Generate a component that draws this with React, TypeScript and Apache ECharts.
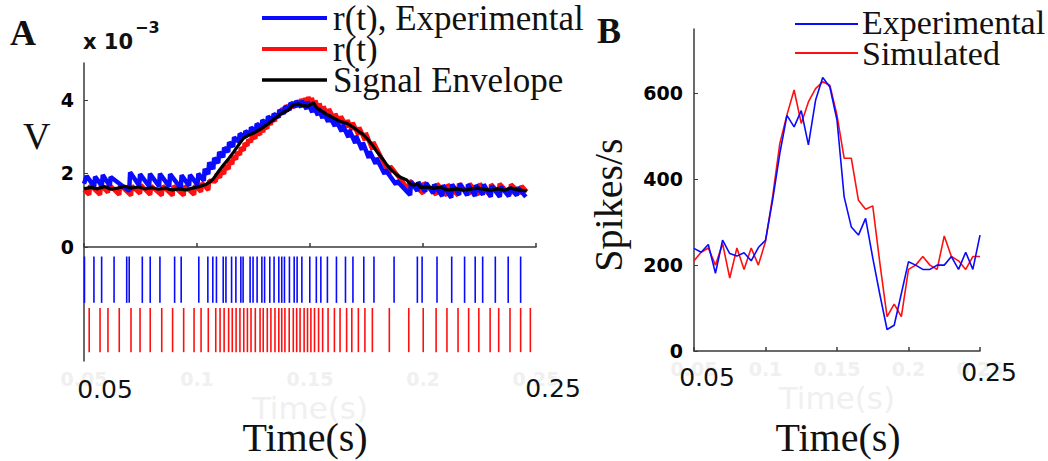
import React, { useEffect, useRef } from "react";
import * as echarts from "echarts";

// ---------- Panel A: voltage traces (x = time s, y = V x 1e-3) ----------
const aRedTrace: number[][] = [
  [0.0500,1.55],[0.0523,1.42],[0.0527,1.68],[0.0571,1.42],[0.0575,1.68],[0.0606,1.48],[0.0610,1.70],
  [0.0656,1.42],[0.0660,1.68],[0.0708,1.40],[0.0712,1.66],[0.0748,1.45],[0.0752,1.68],[0.0793,1.42],
  [0.0797,1.66],[0.0844,1.40],[0.0848,1.66],[0.0892,1.40],[0.0896,1.66],[0.0941,1.40],[0.0945,1.66],
  [0.0987,1.42],[0.0991,1.68],[0.1018,1.50],[0.1022,1.74],[0.1050,1.55],[0.1054,1.80],[0.1083,1.78],
  [0.1087,1.98],[0.1102,1.88],[0.1106,2.08],[0.1120,1.98],[0.1124,2.20],[0.1140,2.12],[0.1144,2.35],
  [0.1156,2.25],[0.1160,2.46],[0.1173,2.38],[0.1177,2.58],[0.1190,2.50],[0.1194,2.70],[0.1207,2.62],
  [0.1211,2.82],[0.1223,2.75],[0.1227,2.92],[0.1239,2.85],[0.1243,3.02],[0.1258,2.95],[0.1262,3.12],
  [0.1279,3.05],[0.1283,3.22],[0.1293,3.12],[0.1297,3.30],[0.1311,3.22],[0.1315,3.40],[0.1327,3.32],
  [0.1331,3.50],[0.1345,3.42],[0.1349,3.60],[0.1362,3.52],[0.1366,3.70],[0.1375,3.60],[0.1379,3.78],
  [0.1389,3.66],[0.1393,3.85],[0.1408,3.72],[0.1412,3.90],[0.1426,3.78],[0.1430,3.95],[0.1441,3.80],
  [0.1445,3.97],[0.1456,3.82],[0.1460,4.02],[0.1474,3.85],[0.1478,4.05],[0.1489,3.88],[0.1493,4.08],
  [0.1504,3.85],[0.1508,4.05],[0.1520,3.80],[0.1524,3.98],[0.1538,3.70],[0.1542,3.90],[0.1556,3.62],
  [0.1560,3.82],[0.1580,3.55],[0.1584,3.75],[0.1608,3.45],[0.1612,3.62],[0.1633,3.35],[0.1637,3.55],
  [0.1662,3.25],[0.1666,3.45],[0.1685,3.18],[0.1689,3.38],[0.1714,3.05],[0.1718,3.25],[0.1743,2.90],
  [0.1747,3.10],[0.1776,2.65],[0.1780,2.85],[0.1851,2.00],[0.1855,2.20],[0.1937,1.55],[0.1941,1.80],
  [0.2001,1.45],[0.2005,1.75],[0.2058,1.42],[0.2062,1.72],[0.2106,1.40],[0.2110,1.70],[0.2155,1.40],
  [0.2159,1.72],[0.2202,1.42],[0.2206,1.72],[0.2247,1.42],[0.2251,1.72],[0.2297,1.40],[0.2301,1.70],
  [0.2335,1.48],[0.2339,1.72],[0.2385,1.42],[0.2389,1.70],[0.2432,1.45],[0.2436,1.66],[0.2459,1.50],
];

const aBlueTrace: number[][] = [
  [0.0500,1.72],[0.0512,1.93],[0.0545,1.64],[0.0549,1.91],[0.0579,1.66],[0.0583,1.96],[0.0614,1.66],
  [0.0618,1.90],[0.0700,1.52],[0.0704,2.03],[0.0744,1.67],[0.0748,1.98],[0.0788,1.65],[0.0792,1.99],
  [0.0832,1.65],[0.0836,1.99],[0.0877,1.64],[0.0881,1.98],[0.0928,1.60],[0.0932,1.95],[0.0965,1.66],
  [0.0969,1.96],[0.1002,1.69],[0.1006,1.99],[0.1030,1.80],[0.1034,2.12],[0.1050,1.98],[0.1054,2.30],
  [0.1072,2.12],[0.1076,2.42],[0.1094,2.28],[0.1098,2.58],[0.1116,2.44],[0.1120,2.70],[0.1138,2.58],
  [0.1142,2.85],[0.1160,2.72],[0.1164,2.98],[0.1185,2.86],[0.1189,3.08],[0.1210,2.98],[0.1214,3.15],
  [0.1235,3.05],[0.1239,3.25],[0.1260,3.13],[0.1264,3.35],[0.1285,3.22],[0.1289,3.45],[0.1310,3.33],
  [0.1314,3.55],[0.1335,3.42],[0.1339,3.62],[0.1360,3.52],[0.1364,3.72],[0.1385,3.62],[0.1389,3.82],
  [0.1410,3.72],[0.1414,3.92],[0.1435,3.80],[0.1439,3.97],[0.1460,3.80],[0.1464,3.97],[0.1485,3.75],
  [0.1489,3.95],[0.1510,3.66],[0.1514,3.85],[0.1535,3.58],[0.1539,3.76],[0.1555,3.50],[0.1559,3.68],
  [0.1580,3.40],[0.1584,3.58],[0.1610,3.28],[0.1614,3.46],[0.1640,3.14],[0.1644,3.32],[0.1670,2.98],
  [0.1674,3.18],[0.1700,2.82],[0.1704,3.02],[0.1730,2.64],[0.1734,2.84],[0.1760,2.42],[0.1764,2.60],
  [0.1790,2.26],[0.1794,2.42],[0.1830,1.98],[0.1834,2.10],[0.1880,1.70],[0.1884,1.80],[0.1943,1.41],
  [0.1947,1.78],[0.1975,1.52],[0.1979,1.76],[0.2010,1.50],[0.2014,1.74],[0.2045,1.46],[0.2049,1.70],
  [0.2085,1.38],[0.2089,1.68],[0.2125,1.34],[0.2129,1.70],[0.2160,1.42],[0.2164,1.72],[0.2195,1.40],
  [0.2199,1.70],[0.2230,1.38],[0.2234,1.68],[0.2265,1.42],[0.2269,1.70],[0.2300,1.36],[0.2304,1.66],
  [0.2340,1.36],[0.2344,1.64],[0.2380,1.38],[0.2384,1.62],[0.2415,1.40],[0.2419,1.62],[0.2455,1.36],
];

const aEnvelope: number[][] = [
  [0.0500,1.58],[0.0530,1.62],[0.0560,1.58],[0.0590,1.64],[0.0620,1.57],[0.0650,1.60],[0.0680,1.65],
  [0.0710,1.60],[0.0740,1.63],[0.0770,1.58],[0.0800,1.61],[0.0830,1.57],[0.0860,1.60],[0.0890,1.55],
  [0.0920,1.58],[0.0950,1.55],[0.0980,1.60],[0.1010,1.64],[0.1040,1.70],[0.1060,1.78],[0.1072,1.85],
  [0.1095,2.05],[0.1116,2.22],[0.1140,2.40],[0.1161,2.57],[0.1185,2.78],[0.1205,2.95],[0.1230,3.04],
  [0.1249,3.09],[0.1270,3.16],[0.1293,3.25],[0.1315,3.35],[0.1338,3.46],[0.1360,3.56],[0.1382,3.66],
  [0.1400,3.70],[0.1426,3.86],[0.1450,3.88],[0.1471,3.84],[0.1490,3.82],[0.1515,3.92],[0.1530,3.78],
  [0.1555,3.68],[0.1574,3.60],[0.1600,3.52],[0.1618,3.46],[0.1640,3.40],[0.1663,3.36],[0.1685,3.28],
  [0.1707,3.18],[0.1730,3.08],[0.1751,2.96],[0.1775,2.78],[0.1795,2.60],[0.1818,2.42],[0.1840,2.23],
  [0.1862,2.08],[0.1884,1.96],[0.1905,1.88],[0.1928,1.82],[0.1945,1.70],[0.1958,1.68],[0.1975,1.72],
  [0.1990,1.62],[0.2020,1.63],[0.2046,1.60],[0.2080,1.62],[0.2100,1.56],[0.2120,1.55],[0.2150,1.58],
  [0.2180,1.54],[0.2210,1.57],[0.2240,1.60],[0.2267,1.57],[0.2300,1.54],[0.2330,1.58],[0.2360,1.54],
  [0.2390,1.60],[0.2420,1.55],[0.2459,1.52],
];

// Spike rasters (spike times in s)
const blueSpikes: number[] = [
  0.0502, 0.0544, 0.0578, 0.0633, 0.0689, 0.0700, 0.0758, 0.0793, 0.0836, 0.0901, 0.0930, 0.1008,
  0.1048, 0.1070, 0.1086, 0.1116, 0.1128, 0.1153, 0.1172, 0.1194, 0.1204, 0.1235, 0.1248, 0.1266,
  0.1287, 0.1299, 0.1322, 0.1341, 0.1362, 0.1375, 0.1387, 0.1409, 0.1430, 0.1443, 0.1464, 0.1499,
  0.1528, 0.1548, 0.1577, 0.1617, 0.1657, 0.1690, 0.1738, 0.1783, 0.1872, 0.1975, 0.1996, 0.2062,
  0.2127, 0.2184, 0.2231, 0.2264, 0.2320, 0.2377, 0.2432,
];
const redSpikes: number[] = [
  0.0523, 0.0571, 0.0606, 0.0656, 0.0708, 0.0748, 0.0793, 0.0844, 0.0892, 0.0941, 0.0987, 0.1018,
  0.1050, 0.1083, 0.1102, 0.1120, 0.1140, 0.1156, 0.1173, 0.1190, 0.1207, 0.1223, 0.1239, 0.1258,
  0.1279, 0.1293, 0.1311, 0.1327, 0.1345, 0.1362, 0.1375, 0.1389, 0.1408, 0.1426, 0.1441, 0.1456,
  0.1474, 0.1489, 0.1504, 0.1520, 0.1538, 0.1556, 0.1580, 0.1608, 0.1633, 0.1662, 0.1685, 0.1714,
  0.1743, 0.1776, 0.1851, 0.1937, 0.2001, 0.2058, 0.2106, 0.2155, 0.2202, 0.2247, 0.2297, 0.2335,
  0.2385, 0.2432, 0.2475,
];

// ---------- Panel B: firing rate ----------
const bTimes: number[] = [
  0.050, 0.055, 0.060, 0.065, 0.070, 0.075, 0.080, 0.085, 0.090, 0.095, 0.100, 0.105, 0.110, 0.115,
  0.120, 0.125, 0.130, 0.135, 0.140, 0.145, 0.150, 0.155, 0.160, 0.165, 0.170, 0.175, 0.180, 0.185,
  0.190, 0.195, 0.200, 0.205, 0.210, 0.215, 0.220, 0.225, 0.230, 0.235, 0.240, 0.245, 0.250,
];
const bExperimental: number[] = [
  239, 230, 248, 181, 258, 227, 221, 229, 210, 241, 258, 352, 460, 549, 522, 560, 480, 584, 637, 615,
  538, 359, 289, 270, 309, 217, 131, 50, 60, 134, 208, 200, 190, 190, 200, 200, 220, 190, 230, 190, 270,
];
const bSimulated: number[] = [
  210, 230, 240, 200, 250, 170, 240, 190, 240, 200, 255, 360, 483, 550, 608, 530, 580, 611, 627, 619,
  549, 449, 449, 351, 330, 338, 204, 80, 109, 80, 190, 200, 220, 200, 190, 268, 220, 210, 190, 220, 220,
];

const aYLabels = [0, 2, 4];
const bYLabels = [0, 200, 400, 600];

const SERIF = "'Liberation Serif', 'Times New Roman', serif";
const SANS = "'DejaVu Sans', sans-serif";
const BLUE = "#0a0aff";
const RED = "#ff1010";
const AXIS = "#3a3a3a";
const FAINT = "#f0f0f0";

function rasterSeries(spikes: number[], y0: number, y1: number, color: string) {
  return {
    type: "custom",
    xAxisIndex: 0,
    yAxisIndex: 0,
    data: spikes.map((t) => [t, y0]),
    encode: { x: 0, y: 1 },
    renderItem: (_p: any, api: any) => {
      const t = api.value(0);
      const a = api.coord([t, y0]);
      const b = api.coord([t, y1]);
      return {
        type: "line",
        shape: { x1: a[0], y1: a[1], x2: b[0], y2: b[1] },
        style: { stroke: color, lineWidth: 1.6 },
      };
    },
    z: 3,
  };
}

function txt(text: string, x: number, y: number, size: number, family: string, opts: any = {}) {
  return {
    type: "text",
    x,
    y,
    rotation: opts.rotation || 0,
    style: {
      text,
      fontSize: size,
      fontFamily: family,
      fontWeight: opts.weight || "normal",
      fill: opts.color || "#111",
      align: opts.align || "left",
      verticalAlign: "middle",
      textAlign: opts.align || "left",
      textVerticalAlign: "middle",
    },
    z: 10,
  };
}

function legLine(x1: number, x2: number, y: number, color: string, w: number) {
  return {
    type: "line",
    shape: { x1, y1: y, x2, y2: y },
    style: { stroke: color, lineWidth: w },
    z: 10,
  };
}

export default function App() {
  const ref = useRef<HTMLDivElement>(null);
  useEffect(() => {
    if (!ref.current) return;
    const chart = echarts.init(ref.current, undefined, { renderer: "svg" });
    const xAxisCommon = (idx: number) => ({
      type: "value",
      gridIndex: idx,
      min: 0.05,
      max: 0.25,
      interval: 0.05,
      axisLine: { show: true, lineStyle: { color: AXIS, width: 1.5 } },
      axisTick: { show: true, inside: true, length: 4, lineStyle: { color: AXIS, width: 1.5 } },
      axisLabel: {
        color: FAINT,
        fontFamily: SANS,
        fontWeight: "bold",
        fontSize: 19,
        margin: 8,
        formatter: (v: number) => String(Math.round(v * 100) / 100),
      },
      splitLine: { show: false },
      name: "Time(s)",
      nameLocation: "middle",
      nameGap: 28,
      nameTextStyle: { color: FAINT, fontFamily: SANS, fontSize: 31 },
    });
    chart.setOption({
      animation: false,
      backgroundColor: "#ffffff",
      grid: [
        { left: 84, top: 63, width: 452, height: 298 },
        { left: 694, top: 29, width: 286, height: 322 },
      ],
      xAxis: [xAxisCommon(0), xAxisCommon(1)],
      yAxis: [
        {
          type: "value",
          gridIndex: 0,
          min: -3.1,
          max: 5,
          axisLine: { show: true, lineStyle: { color: AXIS, width: 1.5 } },
          axisTick: { show: true, inside: true, length: 4, customValues: aYLabels, lineStyle: { color: AXIS } },
          axisLabel: {
            customValues: aYLabels,
            color: "#000",
            fontFamily: SANS,
            fontWeight: "bold",
            fontSize: 19,
            margin: 10,
          },
          splitLine: { show: false },
        },
        {
          type: "value",
          gridIndex: 1,
          min: 0,
          max: 750,
          axisLine: { show: true, lineStyle: { color: AXIS, width: 1.5 } },
          axisTick: { show: true, inside: true, length: 4, customValues: bYLabels, lineStyle: { color: AXIS } },
          axisLabel: {
            customValues: bYLabels,
            color: "#000",
            fontFamily: SANS,
            fontWeight: "bold",
            fontSize: 19,
            margin: 11,
          },
          splitLine: { show: false },
        },
      ],
      series: [
        {
          type: "line",
          xAxisIndex: 0,
          yAxisIndex: 0,
          data: aRedTrace,
          symbol: "none",
          lineStyle: { color: RED, width: 4.5 },
          z: 4,
        },
        {
          type: "line",
          xAxisIndex: 0,
          yAxisIndex: 0,
          data: aBlueTrace,
          symbol: "none",
          lineStyle: { color: BLUE, width: 4.5 },
          z: 5,
        },
        {
          type: "line",
          xAxisIndex: 0,
          yAxisIndex: 0,
          data: aEnvelope,
          symbol: "none",
          lineStyle: { color: "#000", width: 3.2 },
          z: 6,
        },
        rasterSeries(blueSpikes, -0.26, -1.52, BLUE),
        rasterSeries(redSpikes, -1.66, -2.86, RED),
        {
          type: "line",
          xAxisIndex: 1,
          yAxisIndex: 1,
          data: bTimes.map((t, i) => [t, bSimulated[i]]),
          symbol: "none",
          lineStyle: { color: RED, width: 1.6 },
          z: 4,
        },
        {
          type: "line",
          xAxisIndex: 1,
          yAxisIndex: 1,
          data: bTimes.map((t, i) => [t, bExperimental[i]]),
          symbol: "none",
          lineStyle: { color: BLUE, width: 1.6 },
          z: 5,
        },
      ],
      graphic: [
        // Panel A
        txt("A", 10, 33, 36, SERIF, { weight: "bold" }),
        txt("x 10", 83, 42, 21, SANS, { weight: "bold" }),
        txt("\u22123", 135, 27, 16, SANS, { weight: "bold" }),
        txt("V", 23, 136, 38, SERIF),
        legLine(262, 327, 18, BLUE, 4),
        legLine(262, 327, 49, RED, 4),
        legLine(262, 327, 80, "#000", 3.5),
        txt("r(t), Experimental", 333, 18, 35, SERIF),
        txt("r(t)", 333, 49, 35, SERIF),
        txt("Signal Envelope", 333, 80, 35, SERIF),
        txt("0.05", 105, 389, 25, SANS, { align: "center" }),
        txt("0.25", 553, 388, 25, SANS, { align: "center" }),
        txt("Time(s)", 305, 437, 40, SERIF, { align: "center" }),
        // Panel B
        txt("B", 597, 31, 36, SERIF, { weight: "bold" }),
        legLine(795, 858, 24, BLUE, 2),
        legLine(795, 858, 53, RED, 2),
        txt("Experimental", 862, 22, 34, SERIF),
        txt("Simulated", 862, 53, 34, SERIF),
        txt("Spikes/s", 608, 205, 40, SERIF, { align: "center", rotation: Math.PI / 2 }),
        txt("0.05", 707, 377, 25, SANS, { align: "center" }),
        txt("0.25", 989, 372, 25, SANS, { align: "center" }),
        txt("Time(s)", 838, 437, 40, SERIF, { align: "center" }),
      ],
    });
    return () => chart.dispose();
  }, []);
  return (
    <div
      ref={ref}
      style={{ position: "absolute", left: 0, top: 0, width: 1048, height: 461, background: "#fff" }}
    />
  );
}
